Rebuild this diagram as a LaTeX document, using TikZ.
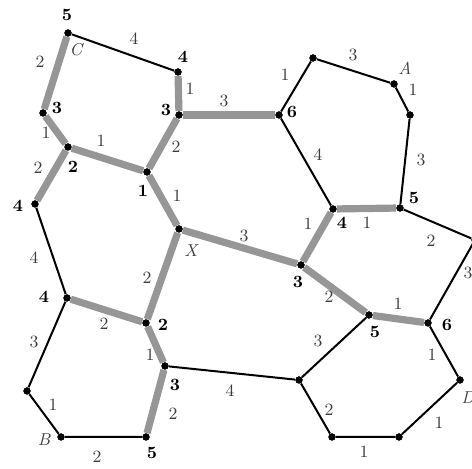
\documentclass[tikz,border=0pt]{standalone}
\usepackage{amsmath}
\usepackage{xcolor}
\usepackage{tikz}
\usetikzlibrary{positioning,calc}
\definecolor{pathgray}{RGB}{150,150,150}
\definecolor{wtgray}{RGB}{60,60,60}

\tikzset{
  vtx/.style={circle,fill=black,inner sep=0pt,minimum size=3.6pt},
  plain/.style={draw=black,line width=1pt,line join=round},
  route/.style={draw=pathgray,line width=3.6pt,line join=round},
  wt/.style={text=wtgray,font=\fontsize{8.6}{10}\selectfont,inner sep=0pt},
  vlab/.style={text=black,font=\fontsize{8.6}{10}\selectfont\bfseries,inner sep=0pt},
  vname/.style={text=wtgray,font=\fontsize{8.6}{10}\selectfont\itshape,inner sep=0pt}
}

\begin{document}
\begin{tikzpicture}[x=0.5pt,y=-0.5pt]
    \useasboundingbox (0,0) rectangle (472,469);

    % vertices
    \node[vtx] (c)   at (68,33)   {};
    \node[vtx] (t1)  at (178,72)  {};
    \node[vtx] (t2)  at (43,113)  {};
    \node[vtx] (t3)  at (179,115) {};
    \node[vtx] (t4)  at (279,115) {};
    \node[vtx] (t5)  at (313,58)  {};
    \node[vtx] (a)   at (394,84)  {};
    \node[vtx] (t6)  at (410,115) {};
    \node[vtx] (m1)  at (68,147)  {};
    \node[vtx] (m2)  at (147,172) {};
    \node[vtx] (m3)  at (35,204)  {};
    \node[vtx] (m4)  at (400,208) {};
    \node[vtx] (m5)  at (333,209) {};
    \node[vtx] (x)   at (179,229) {};
    \node[vtx] (m6)  at (475,240) {};
    \node[vtx] (m7)  at (301,265) {};
    \node[vtx] (b1)  at (67,298)  {};
    \node[vtx] (b2)  at (369,315) {};
    \node[vtx] (b3)  at (146,323) {};
    \node[vtx] (b4)  at (428,323) {};
    \node[vtx] (b5)  at (165,366) {};
    \node[vtx] (b6)  at (299,380) {};
    \node[vtx] (d)   at (460,380) {};
    \node[vtx] (b7)  at (27,391)  {};
    \node[vtx] (b)   at (61,437)  {};
    \node[vtx] (b8)  at (146,437) {};
    \node[vtx] (b9)  at (332,437) {};
    \node[vtx] (b10) at (399,437) {};

    % shortest path tree (gray)
    \draw[route] (c) -- (t2);
    \draw[route] (t1) -- (t3);
    \draw[route] (t2) -- (m1);
    \draw[route] (t3) -- (t4);
    \draw[route] (t3) -- (m2);
    \draw[route] (m1) -- (m2);
    \draw[route] (m1) -- (m3);
    \draw[route] (m2) -- (x);
    \draw[route] (m5) -- (m4);
    \draw[route] (m5) -- (m7);
    \draw[route] (x) -- (m7);
    \draw[route] (x) -- (b3);
    \draw[route] (b1) -- (b3);
    \draw[route] (m7) -- (b2);
    \draw[route] (b2) -- (b4);
    \draw[route] (b3) -- (b5);
    \draw[route] (b5) -- (b8);

    % remaining edges
    \draw[plain] (c) -- (t1);
    \draw[plain] (t4) -- (t5) -- (a) -- (t6) -- (m4);
    \draw[plain] (t4) -- (m5);
    \draw[plain] (m4) -- (m6) -- (b4);
    \draw[plain] (m3) -- (b1) -- (b7) -- (b) -- (b8);
    \draw[plain] (b5) -- (b6);
    \draw[plain] (b2) -- (b6) -- (b9) -- (b10) -- (d) -- (b4);

    % dots on top
    \foreach \v in {c,t1,t2,t3,t4,t5,a,t6,m1,m2,m3,m4,m5,x,m6,m7,b1,b2,b3,b4,b5,b6,d,b7,b,b8,b9,b10}
        \fill (\v) circle (1.8pt);

    % edge weights
    \node[wt] at (134,39)  {4};
    \node[wt] at (40,62)   {2};
    \node[wt] at (190,89)  {1};
    \node[wt] at (46,133)  {1};
    \node[wt] at (224,101) {3};
    \node[wt] at (176,147) {2};
    \node[wt] at (101,141) {1};
    \node[wt] at (38,168)  {2};
    \node[wt] at (177,196) {1};
    \node[wt] at (285,75)  {1};
    \node[wt] at (353,55)  {3};
    \node[wt] at (413,90)  {1};
    \node[wt] at (421,160) {3};
    \node[wt] at (318,155) {4};
    \node[wt] at (367,223) {1};
    \node[wt] at (431,241) {2};
    \node[wt] at (468,273) {3};
    \node[wt] at (308,224) {1};
    \node[wt] at (244,236) {3};
    \node[wt] at (147,278) {2};
    \node[wt] at (34,258)  {4};
    \node[wt] at (104,324) {2};
    \node[wt] at (329,297) {2};
    \node[wt] at (398,304) {1};
    \node[wt] at (34,342)  {3};
    \node[wt] at (150,355) {1};
    \node[wt] at (230,391) {4};
    \node[wt] at (173,414) {2};
    \node[wt] at (53,405)  {1};
    \node[wt] at (97,457)  {2};
    \node[wt] at (318,341) {3};
    \node[wt] at (329,410) {2};
    \node[wt] at (364,452) {1};
    \node[wt] at (439,423) {1};
    \node[wt] at (432,355) {1};

    % distances
    \node[vlab] at (67,15)   {5};
    \node[vlab] at (183,57)  {4};
    \node[vlab] at (57,108)  {3};
    \node[vlab] at (166,110) {3};
    \node[vlab] at (292,112) {6};
    \node[vlab] at (414,198) {5};
    \node[vlab] at (342,223) {4};
    \node[vlab] at (73,167)  {2};
    \node[vlab] at (143,191) {1};
    \node[vlab] at (18,206)  {4};
    \node[vlab] at (298,282) {3};
    \node[vlab] at (44,297)  {4};
    \node[vlab] at (163,325) {2};
    \node[vlab] at (375,332) {5};
    \node[vlab] at (447,325) {6};
    \node[vlab] at (175,385) {3};
    \node[vlab] at (152,453) {5};

    % vertex names
    \node[vname] at (76,50)   {C};
    \node[vname] at (405,68)  {A};
    \node[vname] at (191,251) {X};
    \node[vname] at (468,398) {D};
    \node[vname] at (44,440)  {B};
\end{tikzpicture}
\end{document}
